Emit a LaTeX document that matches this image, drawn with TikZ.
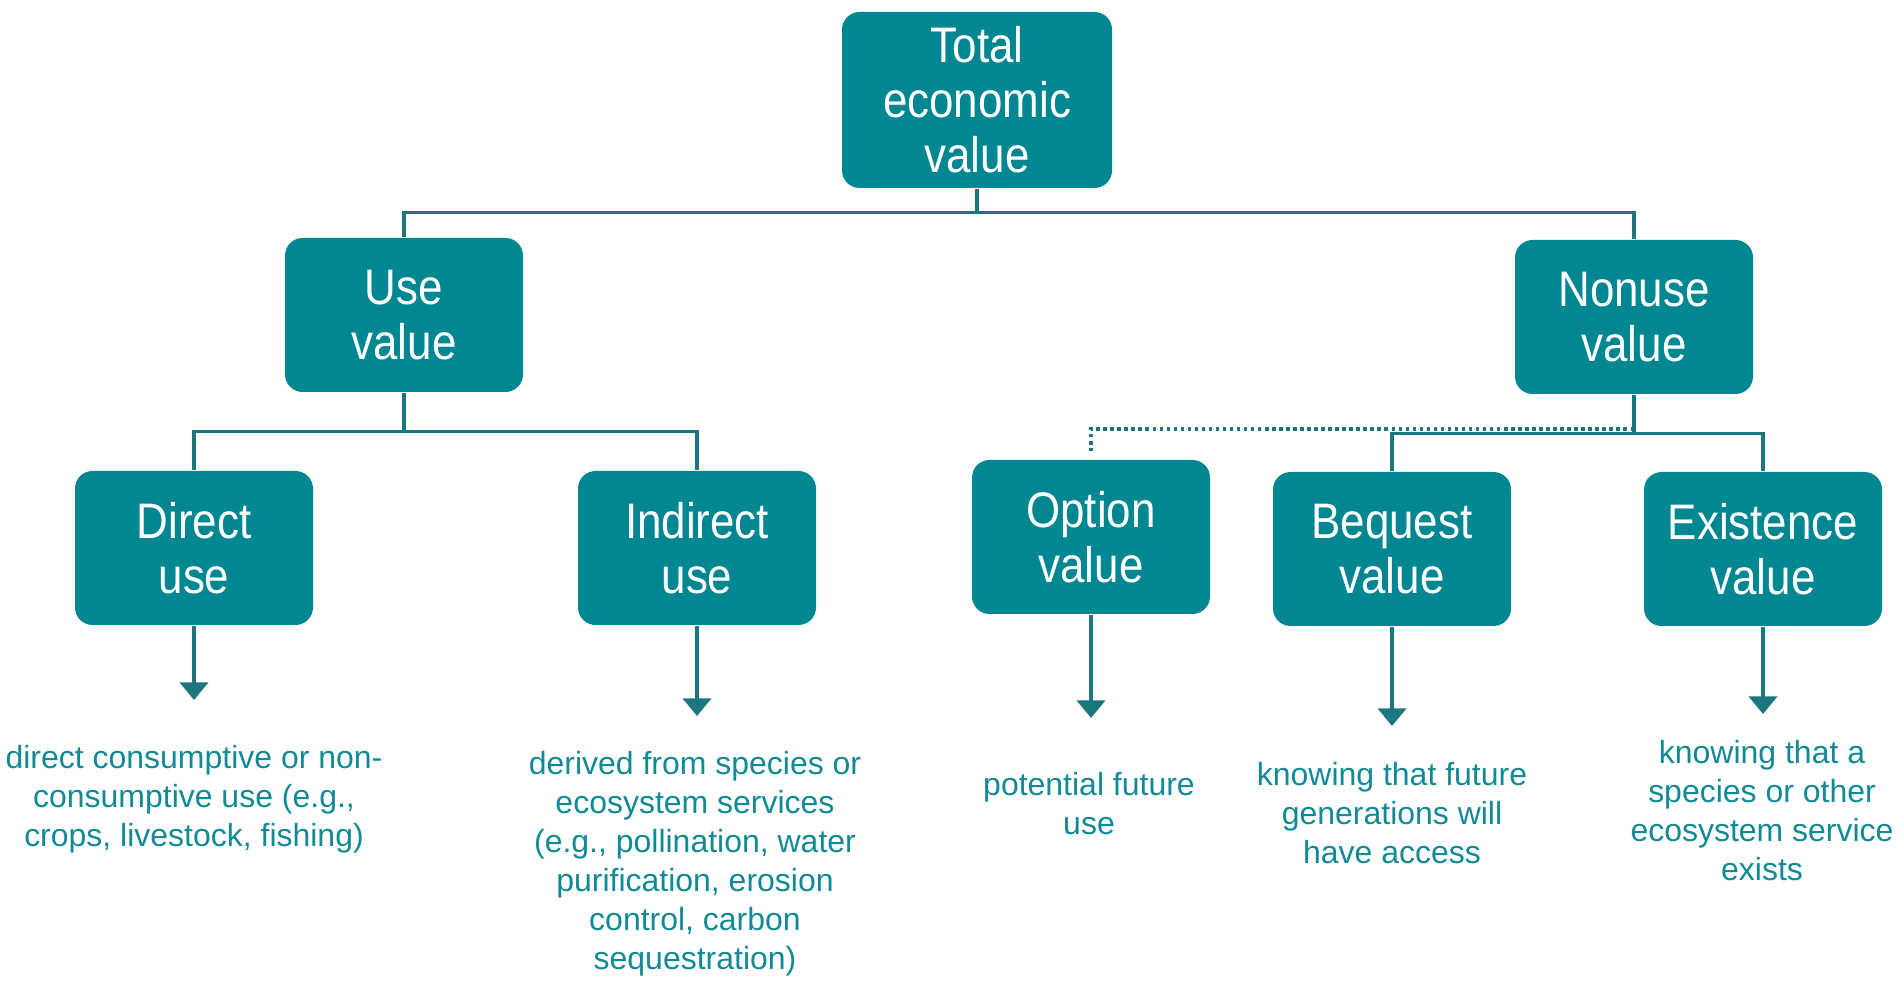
\documentclass[tikz,border=0pt]{standalone}
\usepackage{fontspec}
\setmainfont{Liberation Sans}
\newfontfamily\boxfont[FakeStretch=0.88]{Liberation Sans}
\usetikzlibrary{arrows.meta}
\definecolor{BoxClr}{RGB}{0,135,146}
\definecolor{LineClr}{RGB}{28,118,128}
\definecolor{TextClr}{RGB}{18,138,150}

\begin{document}
\begin{tikzpicture}[
  valbox/.style={fill=BoxClr,rounded corners=5pt,text=white,align=center,
    minimum width=2.38cm,minimum height=1.54cm,inner sep=0pt,
    font=\boxfont\fontsize{14.2}{15.65}\selectfont},
  valtxt/.style={text=TextClr,align=center,inner sep=0pt,
    font=\fontsize{9.1}{11.1}\selectfont},
  link/.style={draw=LineClr,line width=0.9pt},
  optlink/.style={draw=LineClr,line width=1.1pt,dash pattern=on 1pt off 1pt},
  down/.style={draw=LineClr,line width=1pt,-{Triangle[width=8pt,length=5pt]}}]
\useasboundingbox (0,0) rectangle (19.03,9.82);

\node[valbox,minimum width=2.70cm,minimum height=1.76cm] (total) at (9.77,8.82) {Total\\economic\\value};
\node[valbox] (use) at (4.04,6.67) {Use\\value};
\node[valbox] (nonuse) at (16.34,6.65) {Nonuse\\value};

\node[valbox] (direct) at (1.94,4.34) {Direct\\use};
\node[valbox] (indirect) at (6.97,4.34) {Indirect\\use};
\node[valbox] (option) at (10.91,4.45) {Option\\value};
\node[valbox] (bequest) at (13.92,4.33) {Bequest\\value};
\node[valbox] (existence) at (17.63,4.33) {Existence\\value};

\draw[link] (total.south) -- ++(0,-0.24) coordinate (topbar);
\draw[link] (use.north) |- (topbar) -| (nonuse.north);

\draw[link] (use.south) -- ++(0,-0.39) coordinate (usebar);
\draw[link] (direct.north) |- (usebar) -| (indirect.north);

\draw[link] (nonuse.south) -- ++(0,-0.39) coordinate (nonusebar);
\draw[link] (bequest.north) |- (nonusebar) -| (existence.north);
\draw[optlink] (nonusebar) ++(0,0.05) -| ([yshift=0.08cm]option.north);

\node[valtxt] (directtxt) at (1.94,1.83) {direct consumptive or non-\\consumptive use (e.g.,\\crops, livestock, fishing)};
\node[valtxt] (indirecttxt) at (6.95,1.18) {derived from species or\\ecosystem services\\(e.g., pollination, water\\purification, erosion\\control, carbon\\sequestration)};
\node[valtxt] (optiontxt) at (10.89,1.785) {potential future\\use};
\node[valtxt] (bequesttxt) at (13.92,1.69) {knowing that future\\generations will\\have access};
\node[valtxt] (existencetxt) at (17.62,1.71) {knowing that a\\species or other\\ecosystem service\\exists};

\coordinate (directend) at (1.94,2.82);
\coordinate (indirectend) at (6.97,2.66);
\coordinate (optionend) at (10.91,2.64);
\coordinate (bequestend) at (13.92,2.56);
\coordinate (existenceend) at (17.63,2.68);

\draw[down] (direct.south) -- (directend);
\draw[down] (indirect.south) -- (indirectend);
\draw[down] (option.south) -- (optionend);
\draw[down] (bequest.south) -- (bequestend);
\draw[down] (existence.south) -- (existenceend);

\end{tikzpicture}
\end{document}
